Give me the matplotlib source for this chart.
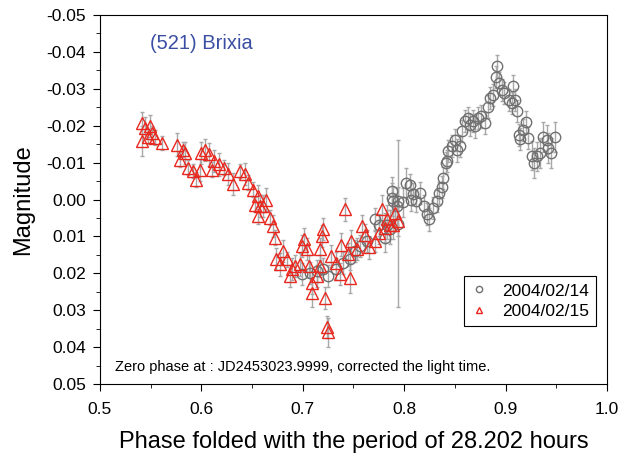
import numpy as np
import matplotlib.pyplot as plt
from matplotlib.ticker import MultipleLocator, FuncFormatter

plt.rcParams['font.family'] = ['Liberation Sans', 'DejaVu Sans']

# 2004/02/14 (circles)
phase_14 = [0.699, 0.707, 0.714, 0.720, 0.725, 0.733, 0.740, 0.747, 0.752, 0.756,
            0.763, 0.771, 0.775, 0.781, 0.783, 0.786, 0.788, 0.788, 0.789, 0.793,
            0.794, 0.794, 0.799, 0.802, 0.806, 0.807, 0.809, 0.812, 0.816, 0.820,
            0.823, 0.825, 0.828, 0.832, 0.834, 0.837, 0.838, 0.841, 0.842, 0.843,
            0.847, 0.850, 0.852, 0.855, 0.857, 0.860, 0.863, 0.865, 0.868, 0.870,
            0.873, 0.876, 0.880, 0.883, 0.885, 0.888, 0.891, 0.892, 0.894, 0.897,
            0.899, 0.903, 0.906, 0.907, 0.909, 0.911, 0.913, 0.914, 0.917, 0.920,
            0.922, 0.926, 0.928, 0.931, 0.934, 0.937, 0.941, 0.942, 0.945, 0.949]
mag_14 = [0.0203, 0.0198, 0.0194, 0.0189, 0.0207, 0.0189, 0.0171, 0.0162, 0.0140, 0.0126,
          0.0113, 0.0054, 0.0068, 0.0103, 0.0068, 0.0081, -0.0022, -0.0005, 0.0005, 0.0018,
          0.0065, 0.0005, 0.0008, -0.0045, -0.0040, 0.0000, -0.0014, 0.0005, -0.0018, 0.0018,
          0.0040, 0.0054, 0.0022, 0.0005, -0.0018, -0.0034, -0.0059, -0.0099, -0.0104, -0.0132,
          -0.0144, -0.0162, -0.0133, -0.0144, -0.0185, -0.0212, -0.0221, -0.0203, -0.0212, -0.0198,
          -0.0221, -0.0225, -0.0207, -0.0252, -0.0275, -0.0284, -0.0333, -0.0362, -0.0315, -0.0297,
          -0.0288, -0.0270, -0.0261, -0.0308, -0.0270, -0.0239, -0.0176, -0.0164, -0.0189, -0.0209,
          -0.0167, -0.0119, -0.0099, -0.0117, -0.0126, -0.0169, -0.0162, -0.0140, -0.0126, -0.0169]
err_14 = [0.003, 0.003, 0.003, 0.003, 0.003, 0.003, 0.003, 0.003, 0.003, 0.003,
          0.003, 0.003, 0.003, 0.004, 0.004, 0.004, 0.004, 0.004, 0.004, 0.005,
          0.0225, 0.004, 0.004, 0.004, 0.003, 0.003, 0.003, 0.003, 0.003, 0.003,
          0.003, 0.003, 0.003, 0.003, 0.003, 0.003, 0.003, 0.003, 0.003, 0.003,
          0.003, 0.003, 0.003, 0.003, 0.003, 0.003, 0.003, 0.003, 0.003, 0.003,
          0.003, 0.003, 0.003, 0.003, 0.003, 0.003, 0.003, 0.003, 0.003, 0.003,
          0.003, 0.003, 0.003, 0.003, 0.003, 0.003, 0.003, 0.003, 0.003, 0.003,
          0.003, 0.004, 0.004, 0.004, 0.004, 0.004, 0.004, 0.004, 0.004, 0.004]

# 2004/02/15 (triangles)
phase_15 = [0.541, 0.541, 0.544, 0.547, 0.549, 0.551, 0.554, 0.561, 0.576, 0.579,
            0.582, 0.584, 0.587, 0.592, 0.595, 0.599, 0.600, 0.604, 0.608, 0.610,
            0.612, 0.617, 0.622, 0.626, 0.631, 0.638, 0.643, 0.646, 0.651, 0.653,
            0.656, 0.656, 0.658, 0.661, 0.664, 0.668, 0.671, 0.673, 0.674, 0.678,
            0.681, 0.684, 0.687, 0.689, 0.692, 0.697, 0.699, 0.701, 0.704, 0.706,
            0.709, 0.709, 0.714, 0.717, 0.717, 0.719, 0.720, 0.722, 0.724, 0.725,
            0.728, 0.733, 0.737, 0.738, 0.742, 0.745, 0.747, 0.748, 0.754, 0.758,
            0.761, 0.765, 0.771, 0.775, 0.778, 0.781, 0.783, 0.786, 0.789, 0.791,
            0.794]
mag_15 = [-0.0207, -0.0158, -0.0194, -0.0170, -0.0200, -0.0180, -0.0168, -0.0153, -0.0149, -0.0108,
          -0.0135, -0.0127, -0.0086, -0.0077, -0.0054, -0.0081, -0.0127, -0.0135, -0.0122, -0.0081,
          -0.0104, -0.0095, -0.0086, -0.0068, -0.0041, -0.0077, -0.0068, -0.0046, -0.0027, 0.0014,
          -0.0009, 0.0045, 0.0018, 0.0018, 0.0000, 0.0049, 0.0072, 0.0103, 0.0162, 0.0176,
          0.0140, 0.0162, 0.0207, 0.0189, 0.0180, 0.0176, 0.0126, 0.0108, 0.0135, 0.0180,
          0.0225, 0.0252, 0.0207, 0.0135, 0.0180, 0.0099, 0.0081, 0.0266, 0.0346, 0.0360,
          0.0153, 0.0171, 0.0203, 0.0122, 0.0027, 0.0149, 0.0212, 0.0113, 0.0135, 0.0072,
          0.0095, 0.0130, 0.0113, 0.0090, 0.0027, 0.0076, 0.0054, 0.0068, 0.0068, 0.0036,
          0.0059]
err_15 = [0.003, 0.004, 0.003, 0.002, 0.003, 0.002, 0.002, 0.002, 0.003, 0.002,
          0.002, 0.003, 0.002, 0.002, 0.002, 0.003, 0.003, 0.003, 0.003, 0.002,
          0.003, 0.003, 0.002, 0.003, 0.003, 0.002, 0.003, 0.002, 0.002, 0.002,
          0.003, 0.002, 0.003, 0.003, 0.003, 0.002, 0.003, 0.002, 0.003, 0.003,
          0.003, 0.002, 0.003, 0.003, 0.003, 0.003, 0.003, 0.003, 0.003, 0.003,
          0.003, 0.004, 0.003, 0.003, 0.003, 0.003, 0.003, 0.003, 0.003, 0.004,
          0.003, 0.003, 0.003, 0.003, 0.003, 0.003, 0.004, 0.003, 0.003, 0.003,
          0.003, 0.003, 0.003, 0.003, 0.004, 0.004, 0.004, 0.004, 0.004, 0.005,
          0.004]

fig = plt.figure(figsize=(6.25, 4.55), dpi=100)
ax = fig.add_axes([0.16, 0.156, 0.811, 0.811])

# error bars beneath markers
ax.errorbar(phase_14, mag_14, yerr=err_14, fmt='none', ecolor='#a8a8a8',
            elinewidth=1, capsize=1.5, capthick=1, zorder=1)
ax.errorbar(phase_15, mag_15, yerr=err_15, fmt='none', ecolor='#a8a8a8',
            elinewidth=1, capsize=1.5, capthick=1, zorder=1)

ax.plot(phase_14, mag_14, 'o', ms=7.5, mfc='none', mec='#707070', mew=1,
        ls='none', zorder=2, label='2004/02/14')
ax.plot(phase_15, mag_15, '^', ms=8, mfc='none', mec='#e8281e', mew=1,
        ls='none', zorder=3, label='2004/02/15')

ax.set_xlim(0.5, 1.0)
ax.set_ylim(0.05, -0.05)
ax.xaxis.set_major_locator(MultipleLocator(0.1))
ax.xaxis.set_minor_locator(MultipleLocator(0.05))
ax.yaxis.set_major_locator(MultipleLocator(0.01))
ax.yaxis.set_minor_locator(MultipleLocator(0.005))
ax.xaxis.set_major_formatter(FuncFormatter(lambda v, p: f'{v:.1f}'))
ax.yaxis.set_major_formatter(FuncFormatter(lambda v, p: f'{v + 0.0:.2f}'.replace('-0.00', '0.00')))
ax.tick_params(which='both', direction='out', top=False, right=False, labelsize=12.5)
ax.tick_params(which='major', length=5)
ax.tick_params(which='minor', length=3)
ax.tick_params(axis='x', pad=8)
ax.tick_params(axis='y', pad=5)

ax.set_xlabel('Phase folded with the period of 28.202 hours', fontsize=17, labelpad=10)
ax.set_ylabel('Magnitude', fontsize=17, labelpad=9)

ax.text(0.549, -0.0423, '(521) Brixia', color='#3a4ea3', fontsize=14.5, va='center')
ax.text(0.515, 0.0455, 'Zero phase at : JD2453023.9999, corrected the light time.',
        fontsize=10.5, va='center')

leg = ax.legend(loc='upper right', bbox_to_anchor=(0.995, 0.315), fontsize=12.5,
                fancybox=False, edgecolor='black', framealpha=1, handlelength=1.0,
                markerscale=0.6, borderpad=0.4, labelspacing=0.3)
leg.get_frame().set_linewidth(0.8)

fig.savefig('out.png', dpi=100)
